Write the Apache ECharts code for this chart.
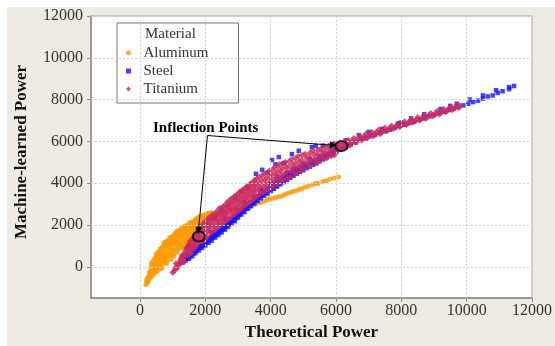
<!DOCTYPE html>
<html><head><meta charset="utf-8">
<script src="https://cdn.jsdelivr.net/npm/echarts@6/dist/echarts.min.js"></script>
<style>
html,body{margin:0;padding:0;background:#fff;width:555px;height:346px;overflow:hidden}
#c{position:absolute;left:7px;top:7px;width:548px;height:339px;background:#eeebe2}
</style>
</head><body><div id="c"></div>
<script>
const xTicks = [0, 2000, 4000, 6000, 8000, 10000, 12000];
const yTicks = [0, 2000, 4000, 6000, 8000, 10000, 12000];
const seriesNames = ['Aluminum', 'Steel', 'Titanium'];

const aluminum = [
[180,-850],[220,-760],[250,-700],[200,-640],
[280,-560],[320,-420],[300,-250],[340,-100],[360,60],
[410,-380],[430,-150],[450,100],[470,300],[480,-30],[500,450],[520,200],[540,-200],
[580,650],[600,300],[620,50],[640,500],[660,800],[620,-100],
[700,950],[720,600],[740,250],[760,1100],[780,800],[800,450],[820,150],[840,1000],
[880,1250],[900,900],[920,600],[950,350],[970,1400],[990,1100],[1010,750],[1040,500],[1060,1300],
[1100,1550],[1120,1000],[1140,700],[1170,1250],[1190,1650],[1210,900],[1240,1400],[1260,1750],
[1290,1100],[1320,1550],[1340,850],[1370,1850],[1400,1300],[1420,1050],[1440,1700],
[1480,1950],[1500,1450],[1530,1200],[1560,1800],[1580,2050],[1610,1550],[1640,1350],
[1670,2150],[1700,1850],[1720,2300],[1750,1650],[1780,2000],[1800,2250],[1830,1900],
[1870,2350],[1900,2100],[1950,2400],[1990,2200],[2030,2450],[2060,2300],[2100,2500],[2140,2400],
[230,-550],[260,-450],[290,-300],[330,-520],[350,150],[380,-250],[390,250],[420,50],[440,400],
[460,-280],[490,600],[510,-100],[530,350],[550,700],[560,0],[570,450],[590,150],[610,850],[630,250],
[650,600],[670,-50],[680,950],[690,350],[710,150],[730,1150],[750,450],[770,700],[790,1200],[810,950],
[830,300],[850,650],[860,1250],[870,500],[890,1050],[910,1400],[930,800],[940,1150],[960,550],[980,1300],
[1000,900],[1020,1500],[1030,600],[1050,1100],[1070,800],[1080,1600],[1090,1350],[1110,1200],[1130,1700],
[1150,850],[1160,1450],[1180,1050],[1200,1750],[1220,1550],[1230,1150],[1250,1000],[1270,1500],[1280,1850],
[1300,1350],[1310,950],[1330,1700],[1350,1200],[1360,1950],[1380,1550],[1390,1100],[1410,1900],[1430,1450],
[1450,1250],[1460,2000],[1470,1600],[1490,1300],[1510,1750],[1520,2100],[1540,1500],[1550,1950],[1570,1350],
[1590,1700],[1600,2150],[1620,1900],[1630,1600],[1650,2000],[1660,1750],[1680,1500],[1690,2250],[1710,2050],
[1730,1800],[1740,2150],[1760,1950],[1770,2350],[1790,1750],[1810,2100],[1820,2400],[1840,2150],[1860,1950],
[1880,2250],[1910,2450],[1920,2300],[1940,2150],[1970,2350],[2000,2500],[2010,2300],[2050,2550],[2080,2400],
[2120,2550],[2160,2500],[2180,2600],
[2200,2450],[2280,2520],[2350,2480],[2450,2560],[2550,2600],[2650,2650],[2750,2700],[2850,2720],
[2950,2780],[3050,2800],[3150,2850],[3250,2870],[3340,2800],[3400,2950],[3500,2980],[3600,3050],
[3700,3080],[3800,3150],[3900,3200],[3980,3280],[4050,3250],[4150,3320],[4250,3350],[4340,3380],
[4420,3450],[4500,3500],[4600,3550],[4680,3600],[4780,3640],[4860,3700],[4950,3730],[5050,3800],
[5150,3850],[5280,3920],[5380,3990],[5450,3980],[5600,4080],[5700,4120],[5820,4200],[5950,4250],[6080,4310]
];

const steel = [
[1300,200],[1350,350],[1400,300],[1450,450],[1500,380],[1550,600],[1600,500],[1650,700],[1700,650],
[1750,850],[1800,780],[1850,1000],[1900,900],[1950,1100],[2000,1020],[2050,1250],[2100,1150],
[2150,1350],[2200,1250],[2250,1450],[2300,1400],[2350,1600],[2400,1520],[2450,1700],[2500,1650],
[2550,1850],[2600,1780],[2650,2000],[2700,1920],[2750,2150],[2800,2050],[2850,2250],[2900,2180],
[2950,2400],[3000,2350],[3050,2550],[3100,2500],[3150,2700],[3200,2620],[3250,2850],[3300,2780],
[3350,2980],[3400,2900],[3450,3080],[3500,3020],[3550,3200],[3600,3150],[3650,3330],[3700,3280],
[3750,3450],[3800,3400],[3850,3560],[3900,3500],[3950,3680],[4000,3620],[4050,3780],[4100,3730],
[4150,3880],[4200,3840],[4250,3990],[4300,3950],[4350,4100],[4400,4050],[4450,4200],[4500,4150],
[4550,4300],[4600,4250],[4650,4400],[4700,4350],[4750,4500],[4800,4450],[4850,4600],[4900,4540],
[4950,4680],[5000,4620],[5100,4720],[5200,4790],[5300,4880],[5400,4950],[5500,5050],[5600,5150],
[5700,5250],[5800,5330],[5900,5420],[6000,5500],[6100,5600],[6200,5680],[6300,5740],[6450,5850],
[6600,5950],[6770,6080],[6900,6150],[7050,6250],[7200,6320],[7350,6400],[7500,6480],[7650,6560],
[7800,6650],[7950,6720],[8100,6800],[8250,6880],[8400,6950],[8550,7050],[8700,7100],[8850,7200],
[9000,7260],[9150,7350],[9300,7420],[9450,7500],[9600,7560],[9750,7650],[9900,7720],[10050,7800],
[10200,7880],[10350,7950],[10500,8050],[10650,8150],[10800,8200],[10950,8320],[11100,8400],
[11300,8500],[11450,8650],
[1330,280],[1380,400],[1430,380],[1480,550],[1530,500],[1580,700],[1630,620],[1680,800],[1730,760],
[1780,950],[1830,900],[1880,1100],[1930,1020],[1980,1200],[2030,1150],[2080,1350],[2130,1280],[2180,1450],
[2230,1400],[2280,1580],[2330,1520],[2380,1720],[2430,1650],[2480,1850],[2530,1780],[2580,1980],[2630,1900],
[2680,2120],[2730,2050],[2780,2280],[2830,2200],[2880,2400],[2930,2330],[2980,2550],[3030,2480],[3080,2700],
[3130,2630],[3180,2850],[3230,2780],[3280,2980],[3330,2920],[3380,3120],[3430,3050],[3480,3250],[3530,3180],
[3580,3380],[3630,3300],[3680,3500],[3730,3420],[3780,3620],[3830,3550],[3880,3750],[3930,3680],[3980,3850],
[4030,3800],[4080,3950],[4130,3900],[4180,4050],[4230,4000],[4280,4150],[4330,4100],[4380,4280],[4430,4200],
[4480,4400],[4530,4320],[4580,4500],[4630,4420],[4680,4600],[4730,4520],[4780,4700],[4830,4620],[4880,4780],
[4930,4700],[5050,4820],[5150,4900],[5250,4980],[5350,5080],[5450,5150],[5550,5250],[5650,5330],[5750,5420],
[5850,5500],[5950,5600],[6050,5680],
[3550,4450],[3740,4640],[4040,5110],[4250,5250],[4650,5390],[4860,5550],[5260,5720],[5380,5780],
[3900,4500],[4150,4900],[4400,4950],[3300,3800],[3100,3600],[2900,3300],[2700,2950],[2500,2700],
[2300,2350],[2100,2000],[1900,1700],[1700,1300],[1500,1000],[5600,5800],[5900,5900],[6300,6050],
[6700,6300],[7000,6450],[7400,6600],[7900,6850],[8300,7100],[8700,7300],[9200,7550],[9700,7800],
[10100,8000],[10500,8200],[10900,8450],[11300,8600],[8000,6900],[9500,7700],
[2600,2300],[3000,2700],[3500,3350],[4000,4000],[4500,4500],[5000,4900],[5500,5300],[2200,1650],
[3200,3100],[3700,3700],[4200,4300],[4700,4700],[5200,5150]
];

const titanium = [
[1000,-280],[1050,-200],[1080,-100],[1120,0],[1150,-50],[1180,150],[1200,80],[1230,300],[1260,200],
[1280,450],[1320,350],[1340,600],[1370,500],[1400,750],[1430,650],[1450,900],[1480,800],[1500,1050],
[1530,700],[1550,950],[1580,1200],[1600,900],[1630,1100],[1660,1400],[1680,1050],[1700,1250],
[1730,1600],[1750,1350],[1780,1800],[1800,1450],[1820,1200],[1850,1650],[1880,1950],[1900,1400],
[1930,1800],[1960,2100],[1990,1600],[2020,1950],[2050,1450],[2080,2250],[2100,1800],[2130,2100],
[2160,1600],[2190,2400],[2220,1950],[2250,2250],[2280,1750],[2310,2550],[2340,2100],[2370,2400],
[2400,1900],[2430,2800],[2460,2250],[2490,2600],[2520,2050],[2550,2900],[2580,2450],[2610,2750],
[2640,2200],[2670,3100],[2700,2600],[2730,2900],[2760,2350],[2790,3250],[2820,2750],[2850,3050],
[2880,2500],[2910,3400],[2940,2900],[2970,3200],[3000,2650],[3030,3550],[3060,3050],[3090,3350],
[3120,2800],[3150,3700],[3180,3200],[3210,3500],[3240,2950],[3270,3850],[3300,3350],[3330,3650],
[3360,3100],[3390,4000],[3420,3500],[3450,3800],[3480,3250],[3510,4150],[3540,3650],[3570,3950],
[3600,3400],[3640,4300],[3680,3800],[3720,4100],[3760,3550],[3800,4450],[3840,3950],[3880,4250],
[3920,3700],[3960,4600],[4000,4100],[4040,4400],[4080,3850],[4120,4750],[4160,4250],[4200,4550],
[4240,4000],[4280,4900],[4320,4400],[4360,4700],[4400,4150],[4450,5000],[4500,4550],[4550,4800],
[4600,4300],[4650,5150],[4700,4700],[4750,4950],[4800,4500],[4850,5300],[4900,4850],[4950,5100],
[5000,4700],[5060,5400],[5120,5000],[5180,5250],[5240,4850],[5300,5550],[5360,5150],[5420,5400],
[5480,5050],[5540,5650],[5600,5300],[5660,5500],[5720,5200],[5780,5800],[5840,5450],[5900,5650],
[5960,5350],[6020,5900],[6080,5600],[6150,5800],[6220,5950],[6300,5750],[6380,6050],[6460,5900],
[6550,6150],[6640,6000],[6730,6250],[6820,6100],[6910,6350],[7000,6250],[7100,6450],[7200,6350],
[7300,6550],[7400,6450],[7500,6650],[7600,6550],[7700,6750],[7800,6650],[7900,6850],[8000,6750],
[8100,6950],[8200,6850],[8300,7050],[8400,6950],[8500,7150],[8600,7050],[8700,7250],[8800,7150],
[8900,7350],[9000,7250],[9100,7450],[9200,7350],[9300,7550],[9400,7450],[9500,7650],[9600,7550],
[9700,7750],[9800,7700],
[1100,150],[1250,400],[1290,550],[1360,250],[1420,900],[1470,550],[1520,1200],[1560,650],[1610,1350],
[1650,850],[1690,1500],[1720,1000],[1770,1550],[1790,1150],[1840,1400],[1870,1750],[1910,1200],[1940,1600],
[1980,1950],[2010,1350],[2040,2200],[2060,1700],[2110,2350],[2140,1950],[2170,1700],[2200,2200],[2230,2500],
[2260,2000],[2290,2350],[2320,1850],[2350,2650],[2380,2200],[2410,2550],[2440,2050],[2470,2450],[2500,2800],
[2530,2300],[2560,2650],[2590,2150],[2620,2950],[2650,2500],[2680,2850],[2710,2300],[2740,3150],[2770,2700],
[2800,3000],[2830,2500],[2860,3300],[2890,2800],[2920,3150],[2950,2650],[2980,3450],[3010,2950],[3040,3250],
[3070,2750],[3100,3600],[3130,3100],[3160,3400],[3190,2950],[3220,3750],[3250,3250],[3280,3550],[3310,3050],
[3340,3900],[3370,3400],[3400,3700],[3430,3200],[3460,4050],[3490,3550],[3520,3850],[3550,3350],[3580,4200],
[3620,3700],[3660,4000],[3700,3500],[3740,4350],[3780,3850],[3820,4150],[3860,3650],[3900,4500],[3940,4000],
[3980,4300],[4020,3800],[4060,4650],[4100,4150],[4140,4450],[4180,3950],[4220,4800],[4260,4300],[4300,4600],
[4340,4100],[4380,4950],[4420,4450],[4470,4750],[4520,4250],[4570,5050],[4620,4600],[4670,4900],[4720,4450],
[4770,5200],[4820,4750],[4870,5050],[4920,4600],[4970,5350],[5030,4950],[5090,5200],[5150,4800],[5210,5450],
[5270,5100],[5330,5350],[5390,5000],[5450,5600],[5510,5250],[5570,5500],[5630,5150],[5690,5700],[5750,5400],
[5810,5600],[5870,5300],[5930,5850],[5990,5500],[6050,5750],[6120,5950],[6190,5650],[6260,5850],[6340,6000],
[6420,5800],[6500,6050],[6590,5950],[6680,6150],[6770,6050],[6860,6250],[6950,6150],[7050,6350],[7150,6250],
[7250,6450],[7350,6350],[7450,6550],[7550,6500],[7650,6650],[7750,6600],[7850,6750],[7950,6700],[8050,6850],
[8150,6800],[8250,6950],[8350,6900],[8450,7050],[8550,7000],[8650,7150],[8750,7100],[8850,7250],[8950,7200],
[9050,7350],[9150,7300],[9250,7450],[9350,7400],[9450,7550],[9550,7500],[9650,7650],[9750,7600]
];

const inflectionPoints = [[1800,1450],[6170,5770]];
const annotationStart = [2065,6280];
const arrowTargets = [[1790,1735],[5920,5810]];

const serif = "'Liberation Serif','Times New Roman',serif";
const chart = echarts.init(document.getElementById('c'), null, {renderer:'canvas'});

const gridLines = xTicks.map(v => ({xAxis: v})).concat(yTicks.map(v => ({yAxis: v})));
const axisCommon = (ticks) => ({
  type: 'value', min: -1500, max: 12000,
  splitLine: {show: false},
  axisLine: {show: true, onZero: false, lineStyle: {color: '#8a8a8a', width: 1.5}},
  axisTick: {show: true, customValues: ticks, length: 4, lineStyle: {color: '#8a8a8a'}},
  axisLabel: {customValues: ticks, formatter: v => String(v), fontFamily: serif, fontSize: 16, color: '#333'}
});

const xAxis = axisCommon(xTicks);
xAxis.axisLabel.margin = 5;
xAxis.name = 'Theoretical Power';
xAxis.nameLocation = 'middle';
xAxis.nameGap = 21;
xAxis.nameTextStyle = {fontFamily: serif, fontSize: 17, fontWeight: 'bold', color: '#111'};
const yAxis = axisCommon(yTicks);
yAxis.axisLabel.margin = 8;

const icons = {
  Aluminum: 'path://M5,0A5,5,0,1,1,4.99,0Z',
  Steel: 'path://M0,0L10,0L10,10L0,10Z',
  Titanium: 'path://M5,0L10,5L5,10L0,5Z'
};

chart.setOption({
  animation: false,
  backgroundColor: 'transparent',
  grid: {left: 84, top: 9, width: 444, height: 289, show: true, backgroundColor: '#fff', borderColor: '#a0a0a0', borderWidth: 1},
  xAxis: xAxis,
  yAxis: yAxis,
  legend: {
    data: seriesNames.map(n => ({name: n, icon: icons[n]})),
    orient: 'vertical', left: 110, top: 16,
    padding: [21, 30, 5, 9], itemGap: 0, itemWidth: 20, itemHeight: 5, symbolKeepAspect: true,
    backgroundColor: '#fff', borderColor: '#777', borderWidth: 1,
    textStyle: {fontFamily: serif, fontSize: 15, color: '#333', lineHeight: 18}
  },
  series: [
    {type: 'scatter', name: 'grid', data: [aluminum[0]], symbolSize: 0, silent: true, z: 1,
     markLine: {silent: true, symbol: 'none', label: {show: false}, animation: false,
       lineStyle: {color: '#d2d2d2', type: [2, 2], width: 1}, data: gridLines}},
    {type: 'scatter', name: 'Aluminum', data: aluminum, symbol: 'circle', symbolSize: 5, itemStyle: {color: '#ff9900'}, z: 2},
    {type: 'scatter', name: 'Steel', data: steel, symbol: 'rect', symbolSize: 4.5, itemStyle: {color: '#1414ff'}, z: 3},
    {type: 'scatter', name: 'Titanium', data: titanium, symbol: 'diamond', symbolSize: 6.5, itemStyle: {color: '#cc2b5e'}, z: 4},
    {type: 'scatter', name: 'annot', data: inflectionPoints, symbol: 'circle', symbolSize: [12, 10], z: 6,
     itemStyle: {color: 'rgba(0,0,0,0)', borderColor: '#000', borderWidth: 2},
     markLine: {silent: true, symbol: ['none', 'triangle'], symbolSize: 7, label: {show: false}, animation: false,
       lineStyle: {color: '#000', type: 'solid', width: 1},
       data: arrowTargets.map(t => [{coord: annotationStart}, {coord: t}])}}
  ],
  graphic: [
    {type: 'text', x: 138, y: 27, z: 100, style: {text: 'Material', font: '15px ' + serif, fill: '#333', verticalAlign: 'middle'}},
    {type: 'text', x: 146, y: 121, z: 100, style: {text: 'Inflection Points', font: 'bold 15px ' + serif, fill: '#000', verticalAlign: 'middle'}},
    {type: 'text', x: 15, y: 145, rotation: Math.PI / 2, z: 100, style: {text: 'Machine-learned Power', font: 'bold 17px ' + serif, fill: '#111', align: 'center', verticalAlign: 'middle'}}
  ]
});
</script>
</body></html>
